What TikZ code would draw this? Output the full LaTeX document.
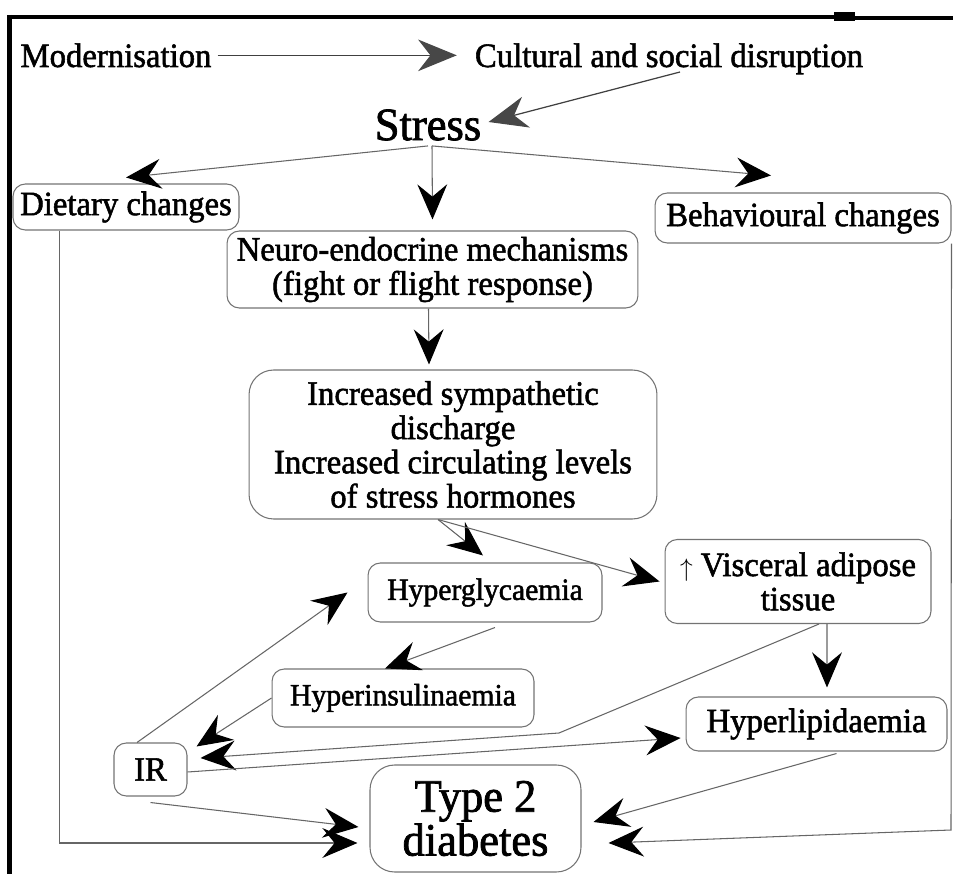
\documentclass[tikz,border=0pt]{standalone}
\usepackage{fontspec}
\setmainfont{Liberation Serif}[FakeBold=1.6, FakeStretch=0.96]
\usetikzlibrary{arrows.meta}

\newcommand{\diagfont}{\fontsize{19.4}{19.5}\selectfont}
\newcommand{\diagsmall}{\fontsize{17.6}{18}\selectfont}
\newcommand{\diagbig}{\fontsize{26.4}{23}\selectfont}

\tikzset{
  box/.style={draw=black!55, line width=0.6pt, rounded corners=7pt, align=center, inner sep=0pt},
  arr/.style={draw=black!60, line width=0.6pt, -{Stealth[length=20pt,width=17pt,inset=7pt,color=black]}},
  toparr/.style={draw=black!75, line width=0.7pt, -{Stealth[length=22pt,width=18pt,inset=7pt,color=black!72]}}
}

\begin{document}
\begin{tikzpicture}[x=0.02cm, y=-0.02cm, font=\diagfont]

  \useasboundingbox (0,0) rectangle (953,874);

  % Frame
  \draw[line width=2.6pt] (7,17) -- (834,17);
  \fill (834,12) rectangle (855,21);
  \draw[line width=2.6pt] (855,18) -- (953,18);
  \draw[line width=2.6pt] (9.5,15) -- (9.5,874);

  \node[anchor=base] (modern)   at (116,67)  {Modernisation};
  \node[anchor=base] (cultural) at (669,67)  {Cultural and social disruption};
  \node[inner sep=0pt, font=\diagbig] (stress) at (428,125) {Stress};

  \node[box, minimum width=4.52cm, minimum height=0.92cm] (diet)  at (126,207) {Dietary changes};
  \node[box, minimum width=5.92cm, minimum height=1.0cm]  (behav) at (803,218) {Behavioural changes};
  \node[box, minimum width=8.22cm, minimum height=1.54cm] (neuro) at (432.5,269.5)
    {Neuro-endocrine mechanisms\\(fight or flight response)};
  \node[box, rounded corners=14pt, minimum width=8.16cm, minimum height=2.98cm] (incr) at (453,444.5)
    {Increased sympathetic\\discharge\\Increased circulating levels\\of stress hormones};
  \node[box, font=\diagsmall, minimum width=4.68cm, minimum height=1.18cm] (hglyc) at (485,592.5) {Hyperglycaemia};
  \node[box, minimum width=5.32cm, minimum height=1.68cm] (visc) at (798,581.5)
    {{\fontsize{14}{14}\selectfont$\uparrow$} Visceral adipose\\tissue};
  \node[box, font=\diagsmall, minimum width=5.24cm, minimum height=1.16cm] (hins) at (403,698) {Hyperinsulinaemia};
  \node[box, minimum width=1.46cm, minimum height=1.06cm] (ir) at (150.5,769.5) {IR};
  \node[box, minimum width=5.22cm, minimum height=1.08cm] (hlip) at (816.5,724) {Hyperlipidaemia};
  \node[box, rounded corners=14pt, font=\diagbig, minimum width=4.22cm, minimum height=2.14cm] (t2d) at (475.5,818.5)
    {Type 2\\diabetes};

  \coordinate (vbend)   at (559,733);
  \coordinate (bcorner) at (951,830);

  % Arrows
  \draw[toparr, shorten >=0.24cm] (modern) -- (modern -| cultural.west);
  \draw[toparr] ([xshift=0.22cm,yshift=-0.1cm]cultural.base) -- ([xshift=0.14cm,yshift=0.06cm]stress.east);

  \draw[arr] ([yshift=-0.1cm]stress.south) -- ([yshift=0.12cm]diet.north);
  \draw[arr] ([xshift=0.08cm,yshift=-0.1cm]stress.south) -- ([yshift=0.22cm]neuro.north);
  \draw[arr] ([xshift=0.08cm,yshift=-0.1cm]stress.south) -- ([xshift=-0.64cm,yshift=0.34cm]behav.north);
  \draw[arr] ([xshift=-0.08cm]neuro.south) -- ([xshift=-0.48cm,yshift=0.1cm]incr.north);

  \draw[arr] ([xshift=-0.3cm]incr.south) -- ([xshift=-0.04cm,yshift=0.14cm]hglyc.north);
  \draw[arr] ([xshift=-0.3cm]incr.south) -- ([xshift=-0.1cm]visc.west);
  \draw[arr] ([xshift=0.2cm,yshift=-0.1cm]hglyc.south) -- ([xshift=-0.36cm]hins.north);
  \draw[arr] (hins.west) -- ([xshift=0.18cm,yshift=-0.08cm]ir.north east);
  \draw[arr] ([xshift=-0.27cm]ir.north) -- ([xshift=-0.4cm]hglyc.west);
  \draw[arr] ([xshift=0.42cm]visc.south) -- (vbend) -- ([xshift=0.26cm,yshift=0.23cm]ir.east);
  \draw[arr] ([yshift=-0.05cm]ir.east) -- ([xshift=-0.1cm,yshift=-0.28cm]hlip.west);
  \draw[arr] ([xshift=0.58cm]visc.south) -- ([xshift=0.21cm,yshift=0.18cm]hlip.north);

  \draw[arr] ([xshift=0.4cm,yshift=-0.04cm]hlip.south) -- ([xshift=0.24cm,yshift=-0.07cm]t2d.east);
  \draw[arr] ([yshift=-0.12cm]ir.south) -- ([xshift=-0.22cm,yshift=-0.17cm]t2d.west);
  \draw[arr] ([xshift=0.94cm]diet.south west) |- ([xshift=-0.24cm,yshift=-0.49cm]t2d.west);
  \draw[arr] (behav.south east) -- (bcorner) -- ([xshift=0.54cm,yshift=-0.49cm]t2d.east);

\end{tikzpicture}
\end{document}
